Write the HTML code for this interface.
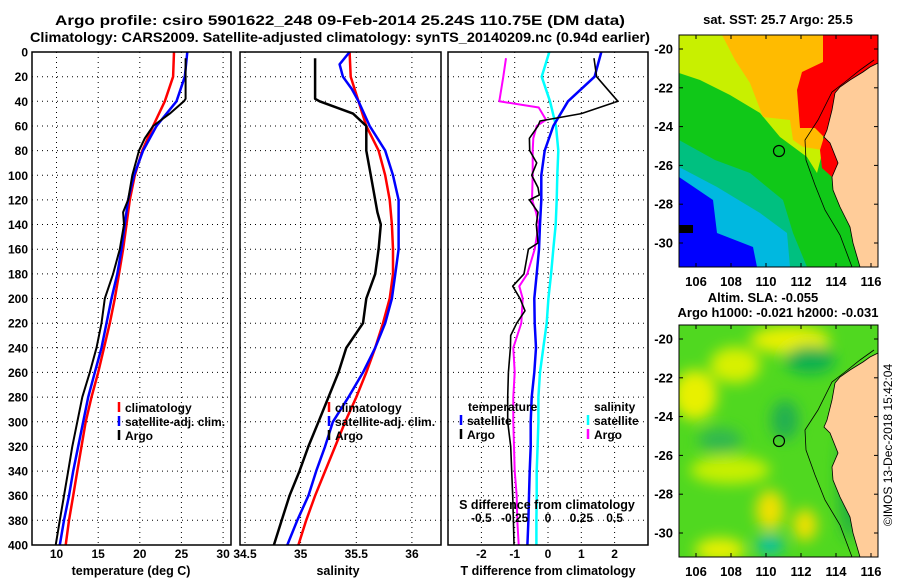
<!DOCTYPE html>
<html><head><meta charset="utf-8"><style>
html,body{margin:0;padding:0;background:#fff;}
svg{display:block;font-family:"Liberation Sans",Arial,sans-serif;font-weight:bold;}
</style></head><body>
<svg id="fig" width="900" height="580" viewBox="0 0 900 580" xmlns="http://www.w3.org/2000/svg">
<rect width="900" height="580" fill="#fff"/>
<text x="340" y="25" font-size="14" text-anchor="middle" textLength="570" lengthAdjust="spacingAndGlyphs">Argo profile: csiro 5901622_248 09-Feb-2014 25.24S 110.75E (DM data)</text>
<text x="340" y="42" font-size="14" text-anchor="middle" textLength="620" lengthAdjust="spacingAndGlyphs">Climatology: CARS2009. Satellite-adjusted climatology: synTS_20140209.nc (0.94d earlier)</text>
<g id="plots"></g>

<!-- SST map -->
<g>
<text x="778" y="24" font-size="13" text-anchor="middle">sat. SST: 25.7 Argo: 25.5</text>
<clipPath id="c1"><rect x="679" y="35" width="199" height="232"/></clipPath>
<g clip-path="url(#c1)">
<rect x="679" y="35" width="199" height="232" fill="#10c818"/>
<polygon points="679,140 715,160 750,173 783,200 793,233 807,267 679,267" fill="#00c080"/>
<polygon points="679,167 717,187 760,213 787,233 790,267 679,267" fill="#00b8e0"/>
<polygon points="679,177 713,200 717,233 753,247 757,267 679,267" fill="#0000ff"/>
<rect x="679" y="225" width="14" height="8" fill="#000"/>
<polygon points="679,35 823,35 823,150 817,173 807,157 780,137 760,113 730,95 700,80 679,73" fill="#c8f000"/>
<polygon points="722,35 823,35 823,150 803,147 793,140 790,120 763,117 750,83 735,60" fill="#ffbb00"/>
<polygon points="823,35 878,35 878,63 870,67 863,72 850,80 840,87 835,93 832,110 827,130 824,137 815,128 800,128 797,90 802,72 823,62" fill="#ff0000"/>
<polygon points="824,137 830,143 838,163 832,177 822,168 820,150" fill="#ff0000"/>
<polygon points="878,63 870,67 863,72 850,80 840,87 835,93 832,110 827,130 824,137 830,143 838,163 832,177 833,190 840,207 850,227 853,243 860,267 878,267" fill="#ffcc99" stroke="#000" stroke-width="0.8"/>
<polyline points="874,60 860,70 845,82 832,92 818,120 805,140 806,160 815,185 825,210 840,235 852,267" fill="none" stroke="#000" stroke-width="0.8"/>
<circle cx="779" cy="151" r="5.5" fill="none" stroke="#000" stroke-width="1.2"/>
</g>
<rect x="679" y="35" width="199" height="232" fill="none" stroke="#000" stroke-width="1"/>
<g id="sstax"></g>
</g>

<!-- SLA map -->
<g>
<text x="763" y="302" font-size="13" text-anchor="middle">Altim. SLA: -0.055</text>
<text x="778" y="317" font-size="13" text-anchor="middle">Argo h1000: -0.021 h2000: -0.031</text>
<clipPath id="c2"><rect x="679" y="325" width="199" height="232"/></clipPath>
<filter id="bl"><feGaussianBlur stdDeviation="7"/></filter>
<g clip-path="url(#c2)">
<rect x="679" y="325" width="199" height="232" fill="#50d820"/>
<g filter="url(#bl)">
<ellipse cx="790" cy="340" rx="40" ry="14" fill="#e8f000"/>
<ellipse cx="735" cy="365" rx="25" ry="18" fill="#d8f000"/>
<ellipse cx="695" cy="395" rx="22" ry="25" fill="#e8f000"/>
<ellipse cx="730" cy="470" rx="40" ry="14" fill="#c8f000"/>
<ellipse cx="770" cy="510" rx="14" ry="20" fill="#f0e000"/>
<ellipse cx="805" cy="525" rx="12" ry="16" fill="#f0e000"/>
<ellipse cx="720" cy="550" rx="25" ry="12" fill="#e8f000"/>
<ellipse cx="810" cy="360" rx="25" ry="14" fill="#10b050"/>
<ellipse cx="785" cy="420" rx="14" ry="20" fill="#20b050"/>
<ellipse cx="720" cy="440" rx="22" ry="12" fill="#30b850"/>
<ellipse cx="770" cy="545" rx="14" ry="10" fill="#10c0a0"/>
<ellipse cx="850" cy="480" rx="12" ry="60" fill="#20b040"/>
</g>
<polygon points="878,353 870,357 863,362 850,370 840,377 835,383 832,400 827,420 824,427 830,433 838,453 832,467 833,480 840,497 850,517 853,533 860,557 878,557" fill="#ffcc99" stroke="#000" stroke-width="0.8"/>
<polyline points="874,350 860,360 845,372 832,382 818,410 805,430 806,450 815,475 825,500 840,525 852,557" fill="none" stroke="#000" stroke-width="0.8"/>
<circle cx="779" cy="441" r="5.5" fill="none" stroke="#000" stroke-width="1.2"/>
</g>
<rect x="679" y="325" width="199" height="232" fill="none" stroke="#000" stroke-width="1"/>
<g id="slaax"></g>
</g>
<text transform="translate(892,445) rotate(-90)" font-size="12" font-weight="normal" text-anchor="middle">©IMOS 13-Dec-2018 15:42:04</text>
</svg>
<script>
// ---- data ----
const stdDepth = [0,20,40,60,80,100,120,140,160,180,200,220,240,260,280,300,320,340,360,380,400];
const tClim = [24.1,24.0,23.0,21.6,20.3,19.4,18.8,18.4,18.0,17.5,17.0,16.4,15.7,15.0,14.2,13.5,13.0,12.5,12.0,11.5,11.1];
const tSat = [25.7,25.4,24.4,22.0,20.4,19.3,18.6,18.2,17.8,17.3,16.6,16.0,15.4,14.6,13.8,13.2,12.6,12.0,11.5,10.9,10.4];
const argoDepth = [5,20,38,40,50,60,70,80,100,120,130,140,160,180,200,220,240,260,280,300,320,340,360,380,400];
const tArgo = [25.5,25.5,25.5,25.3,23.6,21.6,20.6,19.9,19.1,18.6,18.0,18.1,17.6,16.8,15.8,15.4,14.8,14.0,13.1,12.5,11.9,11.4,10.9,10.4,9.9];
const sClim = [35.44,35.45,35.52,35.59,35.70,35.76,35.80,35.82,35.83,35.83,35.80,35.74,35.67,35.59,35.50,35.40,35.31,35.22,35.13,35.05,34.98];
const sSatDepth = [0,10,20,30,40,60,80,100,120,140,160,180,200,220,240,260,280,300,320,340,360,380,400];
const sSat = [35.44,35.35,35.38,35.46,35.52,35.62,35.76,35.83,35.88,35.88,35.88,35.85,35.82,35.76,35.67,35.56,35.43,35.29,35.22,35.14,35.07,34.97,34.88];
const sArgo = [35.13,35.13,35.13,35.17,35.47,35.59,35.59,35.59,35.63,35.67,35.69,35.72,35.70,35.67,35.59,35.56,35.41,35.34,35.25,35.16,35.07,34.99,34.90,34.83,34.76];
const dTSat = [1.6,1.4,0.6,0.16,-0.1,-0.2,-0.2,-0.24,-0.27,-0.34,-0.41,-0.4,-0.36,-0.41,-0.49,-0.52,-0.52,-0.55,-0.57,-0.59,-0.62];
const dTArgoDepth = [5,20,40,50,56,60,70,80,90,100,110,116,120,130,140,155,160,180,190,200,210,220,230,240,260,280,300,320,340,360,380,400];
const dTArgo = [1.38,1.46,2.1,1.0,-0.24,-0.3,-0.56,-0.55,-0.34,-0.49,-0.3,-0.26,-0.56,-0.3,-0.35,-0.3,-0.59,-0.72,-1.06,-0.84,-0.69,-0.94,-1.12,-1.13,-1.19,-1.21,-1.21,-1.12,-1.09,-1.06,-1.04,-1.02];
const dSSat = [0.01,-0.047,0.015,0.06,0.077,0.07,0.065,0.058,0.04,0.023,0.003,-0.01,-0.035,-0.06,-0.072,-0.072,-0.078,-0.085,-0.085,-0.087,-0.087];
const dSArgoDepth = [5,20,40,45,55,60,70,80,100,120,130,140,160,180,190,200,220,230,240,260,280,300,320,340,360,380,400];
const dSArgo = [-0.315,-0.335,-0.365,-0.07,-0.015,-0.085,-0.11,-0.115,-0.115,-0.12,-0.09,-0.07,-0.1,-0.155,-0.215,-0.19,-0.2,-0.23,-0.26,-0.25,-0.26,-0.26,-0.255,-0.25,-0.235,-0.23,-0.22];
const depthTicks = [0,20,40,60,80,100,120,140,160,180,200,220,240,260,280,300,320,340,360,380,400];
const tTicks = [10,15,20,25,30];
const sTicks = [34.5,35,35.5,36];
const dTTicks = [-2,-1,0,1,2];
const dSTicks = [-0.5,-0.25,0,0.25,0.5];
const latTicks = [-20,-22,-24,-26,-28,-30];
const lonTicks = [106,108,110,112,114,116];

// ---- scales ----
const NS = "http://www.w3.org/2000/svg";
const Y0 = 52, Y1 = 545;
const yD = d => Y0 + d/400*(Y1-Y0);
const xT = t => 56.5 + (t-10)*8.33;
const xS = s => 245 + (s-34.5)*111.3;
const xDT = v => 548 + v*33.3;
const xDS = v => 548 + v*133.3;
const root = document.getElementById('plots');
function el(tag, parent){ const e=document.createElementNS(NS,tag); (parent||root).appendChild(e); return e; }
function txt(s,x,y,anchor,size,parent){ const e=el('text',parent); e.setAttribute('x',x); e.setAttribute('y',y); e.setAttribute('text-anchor',anchor); e.setAttribute('font-size',size); e.textContent=s; return e; }
function line(pts,color,w,parent){ const e=el('polyline',parent); e.setAttribute('points',pts.map(p=>p[0].toFixed(1)+','+p[1].toFixed(1)).join(' ')); e.setAttribute('fill','none'); e.setAttribute('stroke',color); e.setAttribute('stroke-width',w); e.setAttribute('stroke-linejoin','round'); return e; }

const panels = [[32,231],[240,441],[448,648]];
panels.forEach((p,i)=>{
  depthTicks.forEach(d=>{
    if(d===0||d===400) return;
    const g=line([[p[0],yD(d)],[p[1],yD(d)]],'#000',1);
    g.setAttribute('stroke-dasharray','1,4');
    
    
  });
});
function vgrid(ticks,sc,p){ ticks.forEach(t=>{ const x=sc(t); if(x<=p[0]+1||x>=p[1]-1) return;
  const g=line([[x,Y0],[x,Y1]],'#000',1); g.setAttribute('stroke-dasharray','1,4');
  
   }); }
vgrid(tTicks,xT,panels[0]); vgrid(sTicks,xS,panels[1]); vgrid(dTTicks,xDT,panels[2]);

function series(depths,vals,sc,color,w,name){
  const e=line(depths.map((d,i)=>[sc(vals[i]),yD(d)]),color,w);
  
  
}
series(stdDepth,tClim,xT,'#f00',2.5,'temperature-climatology-line');
series(stdDepth,tSat,xT,'#00f',2.5,'temperature-satellite-adj-line');
series(argoDepth,tArgo,xT,'#000',2,'temperature-argo-line');
series(stdDepth,sClim,xS,'#f00',2.5,'salinity-climatology-line');
series(sSatDepth,sSat,xS,'#00f',2.5,'salinity-satellite-adj-line');
series(argoDepth,sArgo,xS,'#000',2.5,'salinity-argo-line');
series(stdDepth,dSSat,xDS,'#00ffff',2.5,'s-diff-satellite-line');
series(dSArgoDepth,dSArgo,xDS,'#ff00ff',2,'s-diff-argo-line');
series(stdDepth,dTSat,xDT,'#0000ff',2.5,'t-diff-satellite-line');
series(dTArgoDepth,dTArgo,xDT,'#000',1.6,'t-diff-argo-line');

panels.forEach((p,i)=>{ const r=el('rect'); r.setAttribute('x',p[0]); r.setAttribute('y',Y0); r.setAttribute('width',p[1]-p[0]); r.setAttribute('height',Y1-Y0); r.setAttribute('fill','none'); r.setAttribute('stroke','#000'); r.setAttribute('stroke-width','1.5');
  
   });

depthTicks.forEach(d=>{ const t=txt(String(d),28,yD(d)+4.5,'end',12);
  
   });
function xlabels(ticks,sc,y,fmt,size){ ticks.forEach(v=>{ const t=txt(fmt(v),sc(v),y,'middle',size);
  
   }); }
xlabels(tTicks,xT,558,String,12);
xlabels(sTicks,xS,558,String,12);
xlabels(dTTicks,xDT,558,String,12);
xlabels(dSTicks,xDS,522,String,12);
[['temperature (deg C)',131,575],['salinity',338,575],['T difference from climatology',548,575],['S difference from climatology',547,509]].forEach(a=>{
  const t=txt(a[0],a[1],a[2],'middle',12.5);
  
   });

function legItem(x,y,color,label){ const m=line([[x,y-10],[x,y]],color,2.5);
  
  
  const t=txt(label,x+6,y,'start',12);
  
   }
[['#f00','climatology'],['#00f','satellite-adj. clim.'],['#000','Argo']].forEach((a,i)=>{ legItem(119,412+i*14,a[0],a[1]); legItem(329,412+i*14,a[0],a[1]); });
const th=txt('temperature',468,411,'start',12);


const sh=txt('salinity',594,411,'start',12);


legItem(461,425,'#00f','satellite'); legItem(461,439,'#000','Argo');
legItem(588,425,'#0ff','satellite'); legItem(588,439,'#f0f','Argo');

function mapAxes(gid,top){ const g=document.getElementById(gid);
  const yL=l=>top+14+(-20-l)*19.4, xL=l=>696+(l-106)*17.5;
  latTicks.forEach(l=>{ const t=txt(String(l),673,yL(l)+4.5,'end',13,g);
    
    
    line([[679,yL(l)],[683,yL(l)]],'#000',1,g); line([[874,yL(l)],[878,yL(l)]],'#000',1,g); });
  lonTicks.forEach(l=>{ const t=txt(String(l),xL(l),top+251,'middle',13,g);
    
    
    line([[xL(l),top+232],[xL(l),top+228]],'#000',1,g); line([[xL(l),top],[xL(l),top+4]],'#000',1,g); });
}
mapAxes('sstax',35); mapAxes('slaax',325);
</script>
</body></html>
